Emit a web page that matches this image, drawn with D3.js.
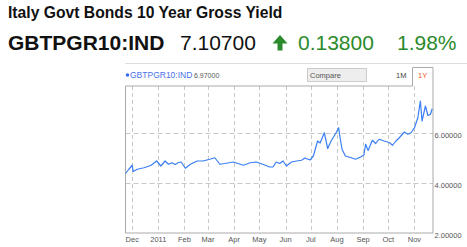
<!DOCTYPE html>
<html>
<head>
<meta charset="utf-8">
<script src="https://cdn.jsdelivr.net/npm/d3@7"></script>
<style>
  body { margin: 0; background: #fff; }
  svg { display: block; font-family: Arial, "Liberation Sans", Helvetica, sans-serif; }
</style>
</head>
<body>
<div id="chart"></div>
<script>
// GBTPGR10:IND, roughly one year of yields
const dates = [
  '2010-11-23', '2010-11-27', '2010-12-01', '2010-12-02', '2010-12-07', '2010-12-15', '2010-12-23', '2010-12-30',
  '2011-01-04', '2011-01-09', '2011-01-13', '2011-01-17', '2011-01-21', '2011-01-25', '2011-01-28',
  '2011-02-02', '2011-02-08', '2011-02-16', '2011-02-23', '2011-03-03', '2011-03-09', '2011-03-15',
  '2011-03-21', '2011-03-31', '2011-04-12', '2011-04-20', '2011-04-27', '2011-05-05', '2011-05-13',
  '2011-05-17', '2011-05-21', '2011-05-25', '2011-05-29', '2011-06-02', '2011-06-08', '2011-06-14',
  '2011-06-20', '2011-06-24', '2011-06-30', '2011-07-04', '2011-07-09', '2011-07-12', '2011-07-17',
  '2011-07-21', '2011-07-25', '2011-07-31', '2011-08-03', '2011-08-05', '2011-08-07', '2011-08-11',
  '2011-08-17', '2011-08-23', '2011-08-29', '2011-09-02', '2011-09-04', '2011-09-07', '2011-09-12',
  '2011-09-16', '2011-09-20', '2011-09-26', '2011-10-02', '2011-10-06', '2011-10-10', '2011-10-14',
  '2011-10-20', '2011-10-24', '2011-10-28', '2011-11-01', '2011-11-05', '2011-11-08', '2011-11-10',
  '2011-11-14', '2011-11-17', '2011-11-20', '2011-11-22'
];
const yields = [
  4.38, 4.55, 4.71, 4.46, 4.55, 4.61, 4.70, 4.88,
  4.68, 4.88, 4.75, 4.81, 4.74, 4.82, 4.84,
  4.59, 4.75, 4.88, 4.88, 4.95, 5.01, 4.75,
  4.78, 4.84, 4.71, 4.81, 4.84, 4.75, 4.64,
  4.64, 4.84, 4.78, 4.88, 4.68, 4.84, 4.88,
  4.91, 5.00, 4.92, 5.08, 5.68, 5.60, 6.01,
  5.38, 5.68, 6.01, 6.21, 5.75, 5.35, 5.08,
  5.02, 4.95, 5.04, 5.12, 5.55, 5.30, 5.71,
  5.58, 5.75, 5.68, 5.62, 5.51, 5.68, 5.81,
  6.04, 5.95, 6.01, 6.21, 6.61, 7.28, 6.48,
  7.08, 6.70, 6.75, 6.97
];
const yTicks = [2, 4, 6];
const monthLabels = ['Dec', '2011', 'Feb', 'Mar', 'Apr', 'May', 'Jun', 'Jul', 'Aug', 'Sep', 'Oct', 'Nov'];

const W = 467, H = 247;
const plotL = 125.5, plotR = 433, plotT = 86, plotB = 233;
const parse = d3.timeParse('%Y-%m-%d');
const data = dates.map((d, i) => ({ date: parse(d), value: yields[i] }));

const x = d3.scaleTime()
  .domain([parse('2010-11-23'), parse('2011-11-23')])
  .range([plotL, plotR]);
const y = d3.scaleLinear().domain([2, 8]).range([plotB, plotB - 150]);

const svg = d3.select('#chart').append('svg')
  .attr('width', W).attr('height', H);

// header
svg.append('text')
  .attr('x', 8).attr('y', 18)
  .attr('font-size', 15.7).attr('font-weight', 'bold').attr('fill', '#111')
  .text('Italy Govt Bonds 10 Year Gross Yield');

svg.append('text')
  .attr('x', 8).attr('y', 50)
  .attr('font-size', 21).attr('font-weight', 'bold').attr('fill', '#111')
  .text('GBTPGR10:IND');
svg.append('text')
  .attr('x', 180).attr('y', 50)
  .attr('font-size', 21).attr('fill', '#111')
  .text('7.10700');
const green = '#2b8a2b';
svg.append('path')
  .attr('d', 'M280,35 L287.5,43.5 L282.5,43.5 L282.5,50.5 L277.5,50.5 L277.5,43.5 L272.5,43.5 Z')
  .attr('fill', green);
svg.append('text')
  .attr('x', 298).attr('y', 50)
  .attr('font-size', 21).attr('fill', green)
  .text('0.13800');
svg.append('text')
  .attr('x', 397).attr('y', 50)
  .attr('font-size', 21).attr('fill', green)
  .text('1.98%');

// chart frame
svg.append('line')
  .attr('x1', 125).attr('x2', W).attr('y1', 63.5).attr('y2', 63.5)
  .attr('stroke', '#ddd');

svg.append('circle').attr('cx', 127.5).attr('cy', 75).attr('r', 1.8).attr('fill', '#3a6cf0');
svg.append('text')
  .attr('x', 130).attr('y', 78)
  .attr('font-size', 8.5).attr('fill', '#4a72ee')
  .text('GBTPGR10:IND');
svg.append('text')
  .attr('x', 194).attr('y', 78)
  .attr('font-size', 7).attr('fill', '#555')
  .text(yields[yields.length - 1].toFixed(5));

svg.append('rect')
  .attr('x', 307.5).attr('y', 68.5).attr('width', 59).attr('height', 13)
  .attr('fill', '#eee').attr('stroke', '#ccc');
svg.append('text')
  .attr('x', 310).attr('y', 78)
  .attr('font-size', 7.5).attr('fill', '#555')
  .text('Compare');
svg.append('text')
  .attr('x', 396).attr('y', 78)
  .attr('font-size', 7.5).attr('fill', '#444')
  .text('1M');
svg.append('text')
  .attr('x', 418).attr('y', 78)
  .attr('font-size', 7.5).attr('fill', '#ee5522')
  .text('1Y');

// grid
const months = d3.timeMonth.range(parse('2010-12-01'), parse('2011-11-02'));
svg.append('g').selectAll('line')
  .data(months)
  .join('line')
  .attr('x1', d => Math.round(x(d)) + 0.5).attr('x2', d => Math.round(x(d)) + 0.5)
  .attr('y1', plotT).attr('y2', plotB)
  .attr('stroke', '#c8c8c8').attr('stroke-dasharray', '4,3');
svg.append('g').selectAll('line')
  .data(yTicks.filter(v => v > 2))
  .join('line')
  .attr('x1', plotL).attr('x2', plotR)
  .attr('y1', d => Math.round(y(d)) + 0.5).attr('y2', d => Math.round(y(d)) + 0.5)
  .attr('stroke', '#c8c8c8').attr('stroke-dasharray', '5,3');

// border with the 1Y tab
svg.append('path')
  .attr('d', `M${plotL},${plotT} L412.5,${plotT} L412.5,67.5 L${plotR},67.5 L${plotR},${plotB} L${plotL},${plotB} Z`)
  .attr('fill', 'none').attr('stroke', '#aaa');

// axes labels
svg.append('g').selectAll('text')
  .data(months)
  .join('text')
  .attr('x', d => x(d)).attr('y', 242)
  .attr('text-anchor', 'middle')
  .attr('font-size', 7.5).attr('fill', '#555')
  .text((d, i) => monthLabels[i]);
svg.append('g').selectAll('text')
  .data(yTicks)
  .join('text')
  .attr('x', 434.5).attr('y', d => y(d) + 5)
  .attr('font-size', 7.5).attr('fill', '#555')
  .text(d => d.toFixed(5));

// series line
const line = d3.line().x(d => x(d.date)).y(d => y(d.value));
svg.append('path')
  .datum(data)
  .attr('d', line)
  .attr('fill', 'none')
  .attr('stroke', '#3a7ff5')
  .attr('stroke-width', 1.2)
  .attr('stroke-linejoin', 'round');
</script>
</body>
</html>
